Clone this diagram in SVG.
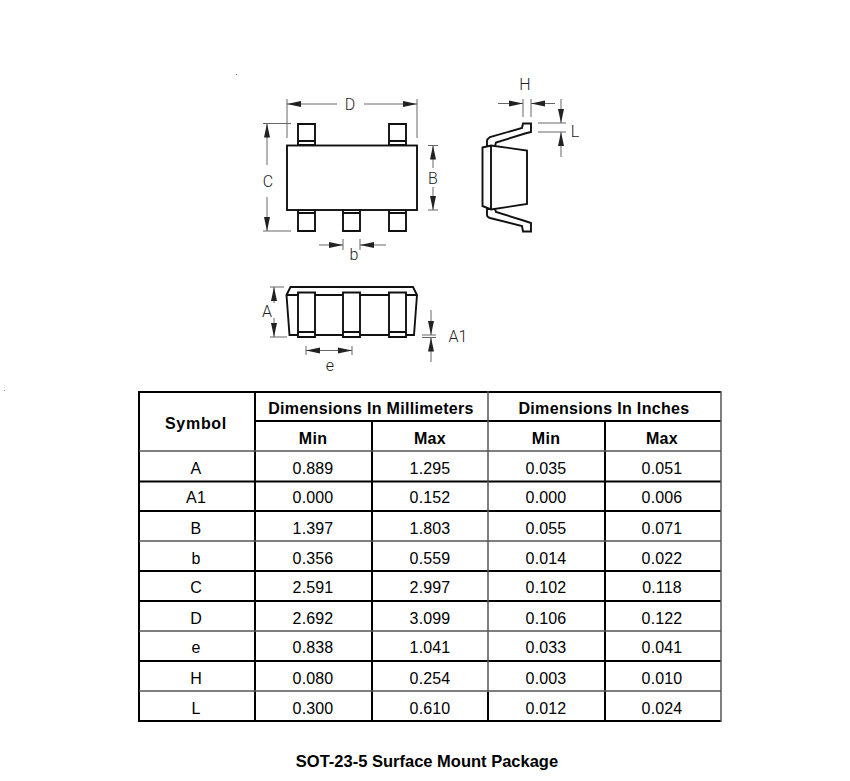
<svg xmlns="http://www.w3.org/2000/svg" width="850" height="781" viewBox="0 0 850 781">
<style>
text{font-family:"Liberation Sans",Arial,sans-serif;fill:#000;text-anchor:middle}
.t{font-size:16px;letter-spacing:.15px}
.h{font-size:16px;font-weight:bold;letter-spacing:.33px}
.l{font-family:Roboto,"Liberation Sans",sans-serif;font-weight:300;font-size:16px;fill:#222}
.s{fill:#fff;stroke:#111;stroke-width:1.9;stroke-linejoin:miter}
.n{fill:none;stroke:#111;stroke-width:1.9}
.d{fill:none;stroke:#666;stroke-width:1}
.g{stroke:#000;stroke-width:2;fill:none}
.g2{stroke:#555;stroke-width:1.5;fill:none}
.a{fill:#222;stroke:none}
</style>
<defs>
<marker id="ah" viewBox="0 0 14 7" refX="14" refY="3.500" markerWidth="14" markerHeight="7" markerUnits="userSpaceOnUse" orient="auto-start-reverse"><path class="a" d="M0 .5L14 3.500L0 6.500Z"/></marker>
</defs>
<rect x="236" y="74" width="1" height="1" fill="#888"/>
<rect x="4" y="390" width="1" height="1" fill="#999"/>
<g id="top-view">
<path class="s" d="M298 124H315V145H298ZM389 124H406V145H389ZM298 210H315V231H298ZM343 210H360V231H343ZM389 210H406V231H389Z"/>
<path class="n" d="M298 141H315M389 141H406M298 213H315M343 213H360M389 213H406"/>
<rect class="s" x="287" y="145.500" width="130" height="64.500"/>
</g>
<g id="side-view">
<path class="s" d="M487 146V141Q487 139 490 137L522 128L523 123.500H531V132L525 133.500L496 142.500L495 146ZM487 209V215Q487 217 490 218L522 226L523 231.500H531V223L525 221L496 212L495 209Z"/>
<path class="s" d="M482.500 147.500L491 145.500L527 150.500V204L491 209.500L482.500 206Z"/>
<path class="n" d="M491 145.500V209.500"/>
</g>
<g id="bottom-view">
<path class="s" d="M286.500 295L290.500 287H413L417 295L414 335H289.500Z"/>
<path class="n" d="M286.500 295H417"/>
<path class="s" d="M298 292.500H315V337H298ZM343 292.500H360V337H343ZM389 292.500H406V337H389Z"/>
<path class="n" d="M298 332H315M343 332H360M389 332H406"/>
</g>
<g id="connectors">
<path class="d" d="M287 99V138M417 99V138M263 123.500H291M263 231H291M428 145.500H438M428 210H438M343 239V250M360 239V250M523 99V117M531 99V117M538 123H566M538 132H566M270 287H284M270 337H287M422 335H436M422 337.500H436M306 346V355M352 346V355"/>
<path class="d" marker-start="url(#ah)" d="M287 104H337"/>
<path class="d" marker-start="url(#ah)" d="M417 104H364"/>
<path class="d" marker-start="url(#ah)" d="M267 123.500V165"/>
<path class="d" marker-start="url(#ah)" d="M267 231V197"/>
<path class="d" marker-start="url(#ah)" d="M433 145.500V168"/>
<path class="d" marker-start="url(#ah)" d="M433 210V187"/>
<path class="d" marker-end="url(#ah)" d="M319 245H343"/>
<path class="d" marker-end="url(#ah)" d="M386 245H360"/>
<path class="d" marker-end="url(#ah)" d="M498 103.500H523"/>
<path class="d" marker-end="url(#ah)" d="M555 103.500H531"/>
<path class="d" marker-end="url(#ah)" d="M561 99V123"/>
<path class="d" marker-end="url(#ah)" d="M561 157V132"/>
<path class="d" marker-start="url(#ah)" d="M274 287V303"/>
<path class="d" marker-start="url(#ah)" d="M274 337V318"/>
<path class="d" marker-end="url(#ah)" d="M431 310V335"/>
<path class="d" marker-end="url(#ah)" d="M431 362V337.500"/>
<path class="d" marker-start="url(#ah)" d="M306 350.500H329"/>
<path class="d" marker-start="url(#ah)" d="M352 350.500H329"/>
</g>
<g id="labels">
<text class="l" x="350" y="110">D</text>
<text class="l" x="268" y="187">C</text>
<text class="l" x="433" y="184">B</text>
<text class="l" x="354" y="260">b</text>
<text class="l" x="525" y="90">H</text>
<text class="l" x="575" y="137">L</text>
<text class="l" x="267" y="317">A</text>
<text class="l" x="458" y="342">A1</text>
<text class="l" x="330" y="371">e</text>
</g>
<g id="table">
<path class="g" d="M139 392H721M255 421H721M139 481.500H721M139 511H721M139 571H721M139 601H721M139 661H721M139 721H721M139 391V722M255 391V722M372 421V722M488 721V692M605 421V722"/>
<path class="g2" d="M139 451H721M139 541H721M139 631H721M139 691H721M488 391V692M721 391V722"/>
<g class="h">
<text x="196" y="429" style="letter-spacing:.7px">Symbol</text>
<text x="371" y="414">Dimensions In Millimeters</text>
<text x="604" y="414">Dimensions In Inches</text>
<text x="313" y="444">Min</text><text x="430" y="444">Max</text><text x="546" y="444">Min</text><text x="662" y="444">Max</text>
</g>
<g class="t">
<text x="196" y="474">A</text><text x="313" y="474">0.889</text><text x="430" y="474">1.295</text><text x="546" y="474">0.035</text><text x="662" y="474">0.051</text>
<text x="196" y="503">A1</text><text x="313" y="503">0.000</text><text x="430" y="503">0.152</text><text x="546" y="503">0.000</text><text x="662" y="503">0.006</text>
<text x="196" y="534">B</text><text x="313" y="534">1.397</text><text x="430" y="534">1.803</text><text x="546" y="534">0.055</text><text x="662" y="534">0.071</text>
<text x="196" y="564">b</text><text x="313" y="564">0.356</text><text x="430" y="564">0.559</text><text x="546" y="564">0.014</text><text x="662" y="564">0.022</text>
<text x="196" y="593">C</text><text x="313" y="593">2.591</text><text x="430" y="593">2.997</text><text x="546" y="593">0.102</text><text x="662" y="593">0.118</text>
<text x="196" y="624">D</text><text x="313" y="624">2.692</text><text x="430" y="624">3.099</text><text x="546" y="624">0.106</text><text x="662" y="624">0.122</text>
<text x="196" y="653">e</text><text x="313" y="653">0.838</text><text x="430" y="653">1.041</text><text x="546" y="653">0.033</text><text x="662" y="653">0.041</text>
<text x="196" y="684">H</text><text x="313" y="684">0.080</text><text x="430" y="684">0.254</text><text x="546" y="684">0.003</text><text x="662" y="684">0.010</text>
<text x="196" y="714">L</text><text x="313" y="714">0.300</text><text x="430" y="714">0.610</text><text x="546" y="714">0.012</text><text x="662" y="714">0.024</text>
</g>
</g>
<text x="427" y="767" style="font-size:16.500px;font-weight:bold">SOT-23-5 Surface Mount Package</text>
</svg>
